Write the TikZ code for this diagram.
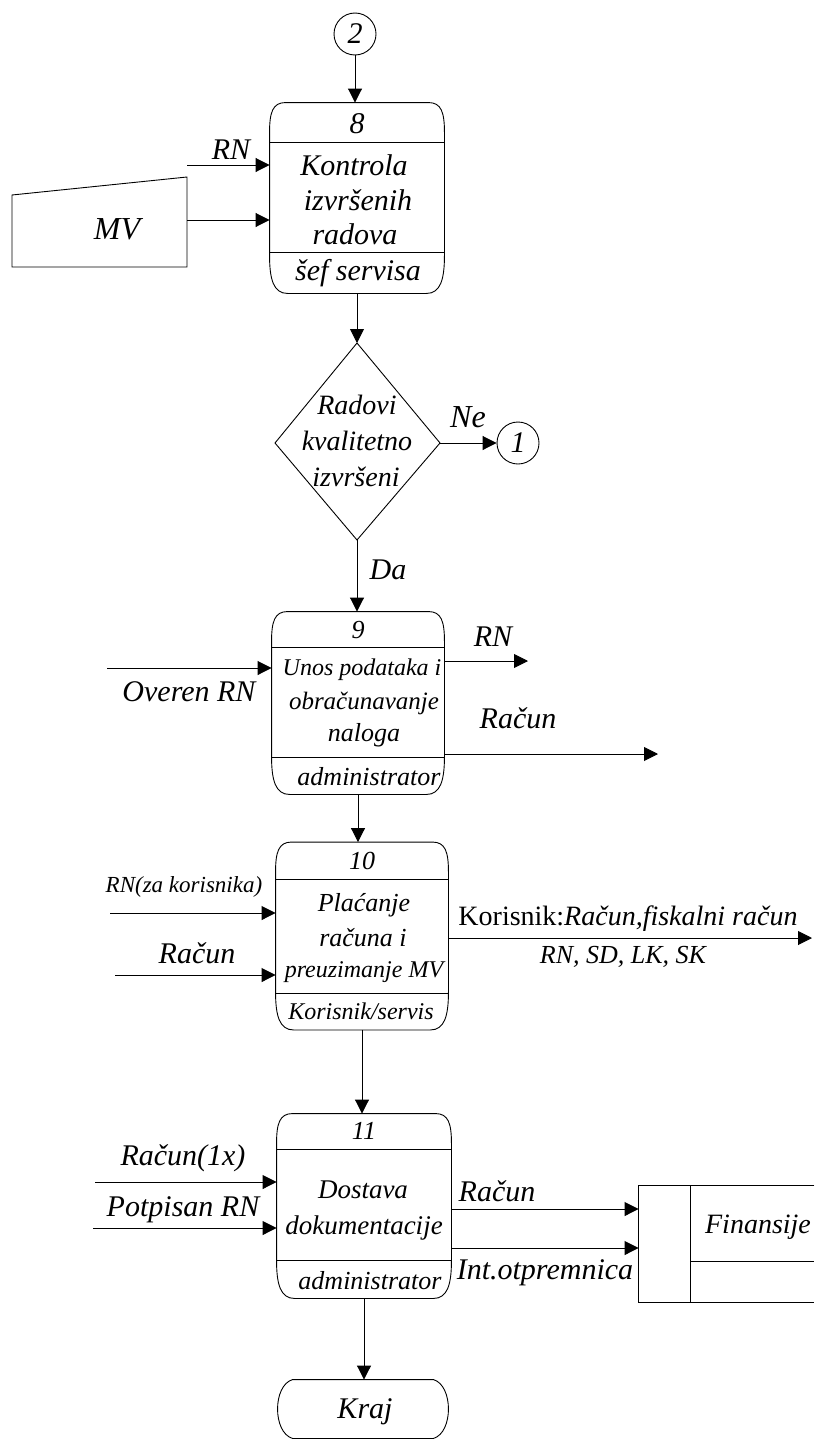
\documentclass[tikz,border=0pt]{standalone}
\usepackage{fontspec}
\setmainfont{Liberation Serif}
\usetikzlibrary{arrows.meta,calc}
\newcommand{\setfs}[1]{\fontsize{#1}{#1}\selectfont}
% process outline: rounded top and bottom corners
\newcommand{\procoutline}[1]{%
  \draw ([yshift=-30pt]#1.north west)
    .. controls ([yshift=-10pt]#1.north west) and ([xshift=3pt]#1.north west) .. ([xshift=16pt]#1.north west)
    -- ([xshift=-16pt]#1.north east)
    .. controls ([xshift=-3pt]#1.north east) and ([yshift=-10pt]#1.north east) .. ([yshift=-30pt]#1.north east)
    -- ([yshift=38pt]#1.south east)
    .. controls ([yshift=14pt]#1.south east) and ([xshift=-4pt]#1.south east) .. ([xshift=-18pt]#1.south east)
    -- ([xshift=18pt]#1.south west)
    .. controls ([xshift=4pt]#1.south west) and ([yshift=14pt]#1.south west) .. ([yshift=38pt]#1.south west)
    -- cycle;}
\begin{document}
\begin{tikzpicture}[x=1pt,y=-1pt,line width=0.9pt,
  arr/.style={-{Triangle[length=14pt,width=14pt]}},
  txt/.style={font=\itshape\setfs{26},inner sep=0pt},
  lbl/.style={font=\itshape\setfs{30},inner sep=0pt},
  procbox/.style={rectangle,draw=none,inner sep=0pt},
  conn/.style={circle,draw,minimum size=42pt,inner sep=0pt,font=\itshape\setfs{30}}]
\useasboundingbox (0,0) rectangle (814,1440);

% ---------- connector 2 and process 8 ----------
\node[conn] (c2) at (355,34) {2};
\node[procbox,minimum width=174pt,minimum height=190pt] (p8) at (357,198) {};
\procoutline{p8}
\draw (p8.west |- 0,142) -- (p8.east |- 0,142);
\draw (p8.west |- 0,252) -- (p8.east |- 0,252);
\node[lbl] (p8n) at (357,124) {8};
\node[lbl] (p8a) at (354,165) {Kontrola};
\node[lbl] (p8b) at (358,200) {izvršenih};
\node[lbl] (p8c) at (355,234) {radova};
\node[lbl] (p8r) at (358,273) {šef servisa};

% MV manual input
\coordinate (mvtl) at (12,195);
\coordinate (mvtr) at (187,177);
\coordinate (mvbr) at (187,267);
\coordinate (mvbl) at (12,267);
\draw (mvtl) -- (mvtr) -- (mvbr) -- (mvbl) -- cycle;
\node[font=\itshape\setfs{32},inner sep=0pt] (mv) at (117,229) {MV};

\coordinate (rn8) at (187,165);
\coordinate (mv8) at (187,220);
\node[lbl] (rn8l) at (231,150) {RN};
\draw[arr] (rn8) -- (rn8 -| p8.west);
\draw[arr] (mv8) -- (mv8 -| p8.west);
\draw[arr] (c2.south) -- (c2.south |- p8.north);

% ---------- decision ----------
\coordinate (dt) at (357,343);
\coordinate (dl) at (275,443);
\coordinate (dr) at (440,443);
\coordinate (db) at (357,540);
\draw (dt) -- (dr) -- (db) -- (dl) -- cycle;
\node[font=\itshape\setfs{28},inner sep=0pt] (d1) at (357,405) {Radovi};
\node[font=\itshape\setfs{28},inner sep=0pt] (d2) at (357,441) {kvalitetno};
\node[font=\itshape\setfs{28},inner sep=0pt] (d3) at (356,477) {izvršeni};
\draw[arr] (p8.south) -- (dt);

\node[conn] (c1) at (518,443) {1};
\draw[arr] (dr) -- (c1.west);
\node[font=\itshape\setfs{32},inner sep=0pt] (ne) at (468,417) {Ne};
\node[lbl] (da) at (388,570) {Da};

% ---------- process 9 ----------
\node[procbox,minimum width=172pt,minimum height=182pt] (p9) at (358,703) {};
\procoutline{p9}
\draw (p9.west |- 0,647) -- (p9.east |- 0,647);
\draw (p9.west |- 0,757) -- (p9.east |- 0,757);
\node[txt] (p9n) at (358,630) {9};
\node[txt,font=\itshape\setfs{24}] (p9a) at (362,670) {Unos podataka i};
\node[txt,font=\itshape\setfs{25}] (p9b) at (364,703) {obračunavanje};
\node[txt] (p9c) at (364,735) {naloga};
\node[txt] (p9r) at (369,777) {administrator};
\draw[arr] (db) -- (db |- p9.north);

\coordinate (ov9) at (107,668);
\draw[arr] (ov9) -- (ov9 -| p9.west);
\node[lbl] (ov9l) at (189,692) {Overen RN};
\coordinate (rn9) at (528,661);
\draw[arr] (rn9 -| p9.east) -- (rn9);
\node[lbl] (rn9l) at (493,637) {RN};
\coordinate (ra9) at (658,754);
\draw[arr] (ra9 -| p9.east) -- (ra9);
\node[lbl] (ra9l) at (518,718) {Račun};

% ---------- process 10 ----------
\node[procbox,minimum width=172pt,minimum height=187pt] (p10) at (362,936) {};
\procoutline{p10}
\draw (p10.west |- 0,879) -- (p10.east |- 0,879);
\draw (p10.west |- 0,993) -- (p10.east |- 0,993);
\node[txt] (p10n) at (362,861) {10};
\node[txt] (p10a) at (364,905) {Plaćanje};
\node[txt] (p10b) at (363,938) {računa i};
\node[txt,font=\itshape\setfs{24}] (p10c) at (364,972) {preuzimanje MV};
\node[txt,font=\itshape\setfs{24}] (p10r) at (361,1011) {Korisnik/servis};
\draw[arr] (p9.south) -- (p9.south |- p10.north);

\coordinate (rz10) at (110,913);
\draw[arr] (rz10) -- (rz10 -| p10.west);
\node[txt,font=\itshape\setfs{23}] (rz10l) at (184,887) {RN(za korisnika)};
\coordinate (ra10) at (115,975);
\draw[arr] (ra10) -- (ra10 -| p10.west);
\node[lbl] (ra10l) at (197,953) {Račun};
\coordinate (ko10) at (812,938);
\draw[arr] (ko10 -| p10.east) -- (ko10);
\node[font=\setfs{28},inner sep=0pt] (ko10l) at (628,919) {Korisnik:\textit{Račun,fiskalni račun}};
\node[txt] (ko10m) at (623,957) {RN, SD, LK, SK};

% ---------- process 11 ----------
\node[procbox,minimum width=174pt,minimum height=184pt] (p11) at (364,1206) {};
\procoutline{p11}
\draw (p11.west |- 0,1149) -- (p11.east |- 0,1149);
\draw (p11.west |- 0,1260) -- (p11.east |- 0,1260);
\node[txt] (p11n) at (364,1131) {11};
\node[txt,font=\itshape\setfs{27}] (p11a) at (363,1190) {Dostava};
\node[txt,font=\itshape\setfs{27}] (p11b) at (364,1228) {dokumentacije};
\node[txt] (p11r) at (370,1281) {administrator};
\draw[arr] (p10.south) -- (p10.south |- p11.north);

\coordinate (ra11) at (95,1182);
\draw[arr] (ra11) -- (ra11 -| p11.west);
\node[lbl] (ra11l) at (183,1158) {Račun(1x)};
\coordinate (po11) at (93,1228);
\draw[arr] (po11) -- (po11 -| p11.west);
\node[lbl] (po11l) at (183,1210) {Potpisan RN};

% Finansije data store
\node[procbox,minimum width=175pt,minimum height=116pt] (fin) at (726.5,1244) {};
\draw (fin.north east) -- (fin.north west) -- (fin.south west) -- (fin.south east);
\draw ([xshift=52pt]fin.north west) -- ([xshift=52pt]fin.south west);
\draw ([xshift=52pt,yshift=-76pt]fin.north west) -- ([yshift=-76pt]fin.north east);
\node[font=\itshape\setfs{28},inner sep=0pt] (finl) at (758,1227) {Finansije};

\coordinate (rf11) at (0,1209);
\draw[arr] (rf11 -| p11.east) -- (rf11 -| fin.west);
\node[lbl] (rf11l) at (497,1191) {Račun};
\coordinate (if11) at (0,1248);
\draw[arr] (if11 -| p11.east) -- (if11 -| fin.west);
\node[lbl] (if11l) at (545,1273) {Int.otpremnica};

% ---------- Kraj ----------
\node[procbox,minimum width=174pt,minimum height=58pt] (kraj) at (363,1409) {};
\draw ([xshift=17pt]kraj.north west) -- ([xshift=-17pt]kraj.north east)
  .. controls ([xshift=3pt,yshift=-6pt]kraj.north east) and ([xshift=3pt,yshift=6pt]kraj.south east) .. ([xshift=-17pt]kraj.south east)
  -- ([xshift=17pt]kraj.south west)
  .. controls ([xshift=-3pt,yshift=6pt]kraj.south west) and ([xshift=-3pt,yshift=-6pt]kraj.north west) .. cycle;
\node[lbl] (krajl) at (365,1412) {Kraj};
\draw[arr] (p11.south) -- (p11.south |- kraj.north);
\end{tikzpicture}
\end{document}
